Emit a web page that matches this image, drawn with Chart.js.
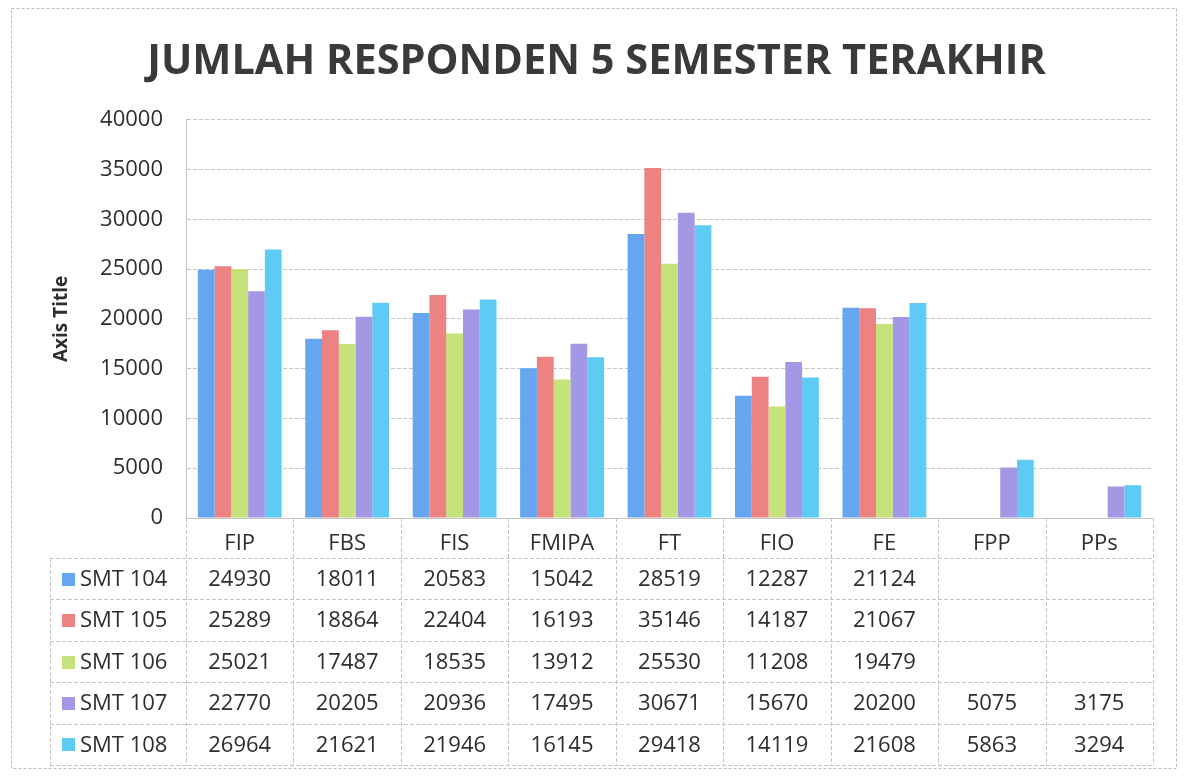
<!DOCTYPE html>
<html>
<head>
<meta charset="utf-8">
<script src="https://cdn.jsdelivr.net/npm/chart.js@4/dist/chart.umd.min.js"></script>
<style>
html,body{margin:0;padding:0;background:#fff;}
#wrap{position:relative;width:1184px;height:778px;}
</style>
</head>
<body>
<div id="wrap"><canvas id="c" width="1184" height="778"></canvas></div>
<script>
const categories = ['FIP','FBS','FIS','FMIPA','FT','FIO','FE','FPP','PPs'];
const seriesNames = ['SMT 104','SMT 105','SMT 106','SMT 107','SMT 108'];
const smt104 = [24930,18011,20583,15042,28519,12287,21124,null,null];
const smt105 = [25289,18864,22404,16193,35146,14187,21067,null,null];
const smt106 = [25021,17487,18535,13912,25530,11208,19479,null,null];
const smt107 = [22770,20205,20936,17495,30671,15670,20200,5075,3175];
const smt108 = [26964,21621,21946,16145,29418,14119,21608,5863,3294];
const seriesValues = [smt104, smt105, smt106, smt107, smt108];
const seriesColors = ['#66a5ef','#ec8282','#c6e27a','#a498e4','#5ecbf4'];
const yMin = 0, yMax = 40000, yStep = 5000;
const titleText = 'JUMLAH RESPONDEN 5 SEMESTER TERAKHIR';
const yAxisTitle = 'Axis Title';

const FONT = "'Open Sans', 'Noto Sans', sans-serif";
const TEXT = '#2e2e2e';
const GRID = '#c4c4c4';

const tablePlugin = {
  id: 'dataTable',
  afterDraw(chart) {
    const ctx = chart.ctx;
    const xs = chart.scales.x;
    const area = chart.chartArea;
    const n = categories.length;
    const step = xs.getPixelForValue(1) - xs.getPixelForValue(0);
    const x0 = xs.getPixelForValue(0) - step / 2;
    const xEnd = x0 + step * n;
    const legendLeft = 50;
    const headerBottom = area.bottom + 40;
    const tableBottom = 765;
    const rowH = (tableBottom - headerBottom) / seriesNames.length;
    ctx.save();
    ctx.strokeStyle = GRID;
    ctx.lineWidth = 1;
    ctx.setLineDash([4, 2]);
    for (let i = 0; i <= n; i++) {
      const x = Math.round(x0 + step * i) + 0.5;
      ctx.beginPath();
      ctx.moveTo(x, area.bottom);
      ctx.lineTo(x, tableBottom);
      ctx.stroke();
    }
    ctx.beginPath();
    ctx.moveTo(legendLeft + 0.5, headerBottom);
    ctx.lineTo(legendLeft + 0.5, tableBottom);
    ctx.stroke();
    for (let r = 0; r <= seriesNames.length; r++) {
      const y = Math.round(headerBottom + rowH * r) + 0.5;
      ctx.beginPath();
      ctx.moveTo(legendLeft, y);
      ctx.lineTo(xEnd, y);
      ctx.stroke();
    }
    ctx.setLineDash([]);
    ctx.font = '22px ' + FONT;
    ctx.textBaseline = 'middle';
    seriesNames.forEach((name, s) => {
      const yc = headerBottom + rowH * (s + 0.5);
      ctx.fillStyle = seriesColors[s];
      ctx.fillRect(62, Math.round(yc - 6), 13, 13);
      ctx.fillStyle = TEXT;
      ctx.textAlign = 'left';
      ctx.fillText(name, 80, yc + 1);
      ctx.textAlign = 'center';
      seriesValues[s].forEach((v, i) => {
        if (v === null || v === undefined) return;
        ctx.fillText(String(v), xs.getPixelForValue(i), yc + 1);
      });
    });
    ctx.strokeStyle = '#bdbdbd';
    ctx.setLineDash([3, 2]);
    ctx.strokeRect(11.5, 8.5, 1165, 760);
    ctx.restore();
  }
};

const chart = new Chart(document.getElementById('c'), {
  type: 'bar',
  data: {
    labels: categories,
    datasets: seriesNames.map((name, s) => ({
      label: name,
      data: seriesValues[s],
      backgroundColor: seriesColors[s],
      borderWidth: 0,
      barPercentage: 1.0,
      categoryPercentage: 0.78
    }))
  },
  options: {
    responsive: false,
    animation: false,
    layout: { padding: { left: 40, right: 31, top: 8, bottom: 0 } },
    plugins: {
      legend: { display: false },
      tooltip: { enabled: false },
      title: {
        display: true,
        text: titleText,
        color: '#3a3a3a',
        font: { family: FONT, size: 41.5, weight: 'bold' },
        padding: { top: 29, bottom: 33 }
      }
    },
    scales: {
      x: {
        grid: { display: false },
        border: { display: true, color: GRID, width: 1 },
        ticks: { color: TEXT, font: { family: FONT, size: 22 }, padding: 5, maxRotation: 0 },
        afterFit(scale) { scale.height = 260; }
      },
      y: {
        min: yMin, max: yMax,
        ticks: { stepSize: yStep, color: TEXT, font: { family: FONT, size: 22 }, padding: 23,
                 callback: (v) => String(v) },
        grid: { color: GRID, drawTicks: false, lineWidth: 1 },
        border: { display: true, color: GRID, dash: [4, 2] },
        title: { display: true, text: yAxisTitle, color: TEXT, font: { family: FONT, size: 19, weight: 'bold' }, padding: { top: 10, bottom: 0 } },
        afterFit(scale) { scale.width = 146; }
      }
    }
  },
  plugins: [tablePlugin]
});
</script>
</body>
</html>
